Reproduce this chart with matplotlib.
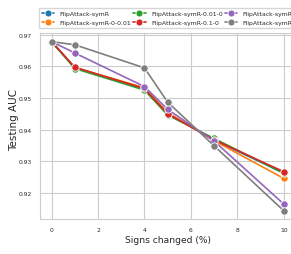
import matplotlib
matplotlib.use('Agg')
import matplotlib.pyplot as plt
import seaborn as sns

sns.set_style("whitegrid")
plt.rcParams['font.family'] = ['DejaVu Sans']

signs = [0, 1, 4, 5, 7, 10]
auc_symR = [0.9678, 0.9595, 0.9528, 0.9452, 0.9367, 0.9263]
auc_0_001 = [0.9678, 0.9596, 0.9532, 0.9454, 0.9365, 0.9246]
auc_001_0 = [0.9678, 0.9593, 0.9525, 0.9446, 0.9372, 0.9262]
auc_01_0 = [0.9678, 0.9597, 0.9530, 0.9450, 0.9368, 0.9267]
auc_1_0 = [0.9678, 0.9642, 0.9536, 0.9464, 0.9364, 0.9165]
auc_2_0 = [0.9678, 0.9668, 0.9595, 0.9487, 0.9349, 0.9144]

series = [
    ("FlipAttack-symR", auc_symR, "C0"),
    ("FlipAttack-symR-0-0.01", auc_0_001, "C1"),
    ("FlipAttack-symR-0.01-0", auc_001_0, "C2"),
    ("FlipAttack-symR-0.1-0", auc_01_0, "C3"),
    ("FlipAttack-symR-1-0", auc_1_0, "C4"),
    ("FlipAttack-symR-2-0", auc_2_0, "C7"),
]

fig = plt.figure(figsize=(2.91, 2.55), dpi=100)
ax = fig.add_axes([0.1375, 0.137, 0.877, 0.729])

for name, vals, col in series:
    ax.plot(signs, vals, marker="o", color=col, label=name, lw=1.2,
            markersize=5.3, markeredgecolor="white", markeredgewidth=0.6)

ax.set_xticks([0, 2, 4, 6, 8, 10])
ax.set_yticks([0.92, 0.93, 0.94, 0.95, 0.96, 0.97])
ax.tick_params(labelsize=4.3, pad=2.2)
ax.set_xlabel("Signs changed (%)", fontsize=6.6, labelpad=2.5)
ax.set_ylabel("Testing AUC", fontsize=7.5)
ax.yaxis.set_label_coords(-0.082, 0.54)

ax.legend(loc="lower left", bbox_to_anchor=(-0.004, 1.027), ncol=3, fontsize=4.4,
          frameon=True, handlelength=2.0, columnspacing=0.3, handletextpad=0.9,
          borderpad=0.5, labelspacing=0.65, borderaxespad=0, markerscale=0.95)

fig.savefig("out.png", dpi=100)
